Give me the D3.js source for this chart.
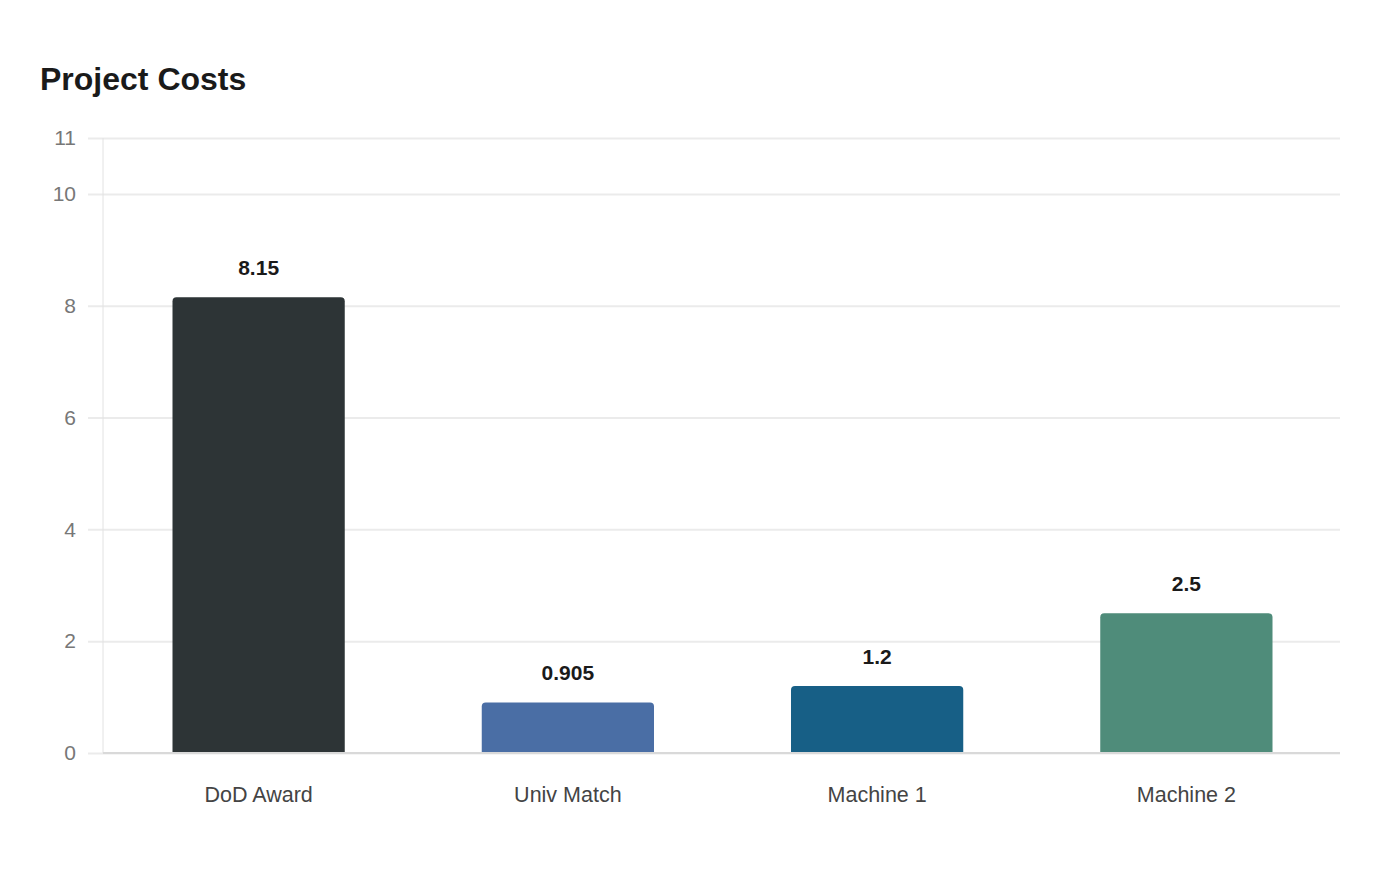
<!doctype html>
<html lang="en">
<head>
  <meta charset="utf-8">
  <title>Project Costs</title>
  <script src="https://d3js.org/d3.v7.min.js"></script>
  <style>
    body { margin: 0; background: #fff; }
    text { font-family: "Liberation Sans", Arial, sans-serif; }
  </style>
</head>
<body>
  <div id="my_chart"></div>
<script>
  var categories = ["DoD Award", "Univ Match", "Machine 1", "Machine 2"];
  var costs = [8.15, 0.905, 1.2, 2.5];
  var bar_colors = ["#2d3436", "#4a6ea5", "#175f86", "#4f8c7a"];
  var y_ticks = [0, 2, 4, 6, 8, 10, 11];

  var width = 1400;
  var height = 880;
  var plot_left = 103, plot_right = 1340, plot_top = 138, plot_bottom = 753;

  var svg = d3.select('#my_chart').append('svg')
    .attr('width', width)
    .attr('height', height);

  var x = d3.scaleBand()
    .domain(categories)
    .range([plot_left + 1, plot_right + 1])
    .paddingInner(0.443)
    .paddingOuter(0.2215);

  var y = d3.scaleLinear()
    .domain([0, 11])
    .range([plot_bottom, plot_top]);

  // title
  svg.append('text')
    .attr('x', 40)
    .attr('y', 90)
    .style('font-size', '32px')
    .style('font-weight', 'bold')
    .style('fill', '#1a1a1a')
    .text('Project Costs');

  // grid + y axis
  var y_axis = svg.append('g')
    .attr('transform', 'translate(' + plot_left + ',0)')
    .call(d3.axisLeft(y).tickValues(y_ticks).tickSize(15).tickPadding(0));
  y_axis.select('.domain').remove();
  y_axis.selectAll('.tick line')
    .attr('x1', -15)
    .attr('x2', plot_right - plot_left)
    .attr('stroke', '#ebebeb')
    .attr('stroke-width', 2);
  y_axis.selectAll('.tick text')
    .attr('x', -27)
    .style('font-size', '21px')
    .style('font-family', '"Liberation Sans", Arial, sans-serif')
    .style('fill', '#777');

  svg.append('line')
    .attr('x1', plot_left).attr('x2', plot_left)
    .attr('y1', plot_top).attr('y2', plot_bottom)
    .attr('stroke', '#e2e2e2')
    .attr('stroke-width', 1);

  // bars with rounded tops
  var r = 4;
  function bar_path(d, i) {
    var x0 = x(categories[i]), w = x.bandwidth();
    var y0 = y(d), y1 = y(0);
    return 'M' + x0 + ',' + y1 +
      'V' + (y0 + r) +
      'Q' + x0 + ',' + y0 + ' ' + (x0 + r) + ',' + y0 +
      'H' + (x0 + w - r) +
      'Q' + (x0 + w) + ',' + y0 + ' ' + (x0 + w) + ',' + (y0 + r) +
      'V' + y1 + 'Z';
  }

  svg.append('g').selectAll('path')
    .data(costs)
    .enter().append('path')
      .attr('d', bar_path)
      .attr('fill', (d, i) => bar_colors[i]);

  // value labels
  svg.append('g').selectAll('text')
    .data(costs)
    .enter().append('text')
      .attr('x', (d, i) => x(categories[i]) + x.bandwidth() / 2)
      .attr('y', (d) => y(d) - 22)
      .attr('text-anchor', 'middle')
      .style('font-size', '21px')
      .style('font-weight', 'bold')
      .style('fill', '#1a1a1a')
      .text((d) => d);

  // baseline
  svg.append('line')
    .attr('x1', plot_left).attr('x2', plot_right)
    .attr('y1', plot_bottom).attr('y2', plot_bottom)
    .attr('stroke', '#d9d9d9')
    .attr('stroke-width', 2);

  // x axis labels
  var x_axis = svg.append('g')
    .attr('transform', 'translate(0,' + plot_bottom + ')')
    .call(d3.axisBottom(x).tickSize(0).tickPadding(0));
  x_axis.select('.domain').remove();
  x_axis.selectAll('.tick text')
    .attr('y', 34)
    .attr('dy', '0.71em')
    .style('font-size', '21.5px')
    .style('font-family', '"Liberation Sans", Arial, sans-serif')
    .style('fill', '#444');
</script>
</body>
</html>
